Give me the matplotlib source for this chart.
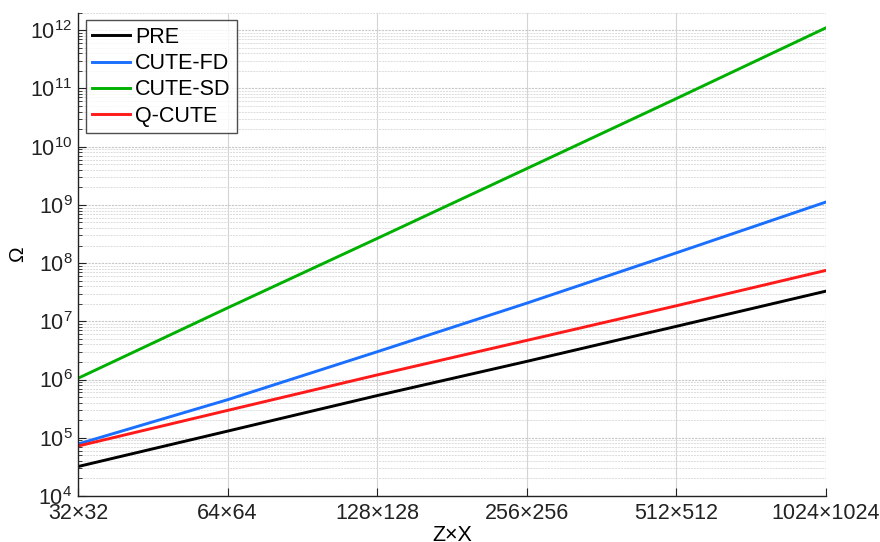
import matplotlib
matplotlib.use("Agg")
import matplotlib.pyplot as plt
from matplotlib.ticker import LogLocator, NullFormatter, FixedLocator

plt.rcParams['font.family'] = ['Liberation Sans', 'DejaVu Sans']
plt.rcParams['mathtext.fontset'] = 'custom'
plt.rcParams['mathtext.rm'] = 'Liberation Sans'
plt.rcParams['mathtext.it'] = 'Liberation Sans'

# Grid sizes (Z = X = N)
grid_n = [32, 64, 128, 256, 512, 1024]
tick_labels = ["32×32", "64×64", "128×128", "256×256", "512×512", "1024×1024"]

# Complexity values per method
pre = [3.2e4, 1.3e5, 5.3e5, 2.05e6, 8.2e6, 3.3e7]
cute_fd = [7.8e4, 4.5e5, 3.0e6, 2.05e7, 1.5e8, 1.12e9]
cute_sd = [1.05e6, 1.7e7, 2.65e8, 4.2e9, 6.7e10, 1.1e12]
q_cute = [7.2e4, 2.95e5, 1.2e6, 4.7e6, 1.85e7, 7.5e7]

series = [
    ("PRE", pre, "#000000"),
    ("CUTE-FD", cute_fd, "#1a6fff"),
    ("CUTE-SD", cute_sd, "#00b000"),
    ("Q-CUTE", q_cute, "#ff1a1a"),
]

fig = plt.figure(figsize=(8.8, 5.42), dpi=100)
ax = fig.add_axes([0.0886, 0.0849, 0.85, 0.8917])

for name, vals, color in series:
    ax.plot(grid_n, vals, color=color, lw=2.1, label=name)

ax.set_xscale('log', base=2)
ax.set_yscale('log')
ax.set_xlim(32, 1024)
ax.set_ylim(1e4, 2e12)

ax.xaxis.set_major_locator(FixedLocator(grid_n))
ax.set_xticklabels(tick_labels)
ax.xaxis.set_minor_locator(FixedLocator([]))
ax.yaxis.set_major_locator(LogLocator(base=10, numticks=20))
ax.yaxis.set_minor_locator(LogLocator(base=10, subs=range(2, 10), numticks=100))
ax.yaxis.set_minor_formatter(NullFormatter())

ax.grid(True, which='major', axis='x', color='#d4d4d4', lw=0.8, ls='-')
ax.grid(True, which='major', axis='y', color='#c8c8c8', lw=0.8, ls=(0, (2, 1)))
ax.grid(True, which='minor', axis='y', color='#dcdcdc', lw=0.7, ls=(0, (2, 1)))
ax.set_axisbelow(True)

for s in ('top', 'right'):
    ax.spines[s].set_visible(False)
for s in ('left', 'bottom'):
    ax.spines[s].set_color('#222222')
    ax.spines[s].set_linewidth(1.0)

ax.tick_params(axis='both', which='both', direction='in', colors='#222222')
ax.tick_params(axis='both', which='major', length=6, labelsize=15.5, pad=4)
ax.tick_params(axis='y', which='minor', length=3)
ax.tick_params(axis='x', which='major', pad=5)

ax.set_xlabel("Z×X", fontsize=15.5, labelpad=1)
ax.set_ylabel("Ω", fontsize=15, labelpad=2)

leg = ax.legend(loc='upper left', fontsize=15.5, frameon=True, fancybox=False,
                edgecolor='#222222', handlelength=1.75, handletextpad=0.25,
                borderpad=0.3, labelspacing=0.25, borderaxespad=0.35)
leg.get_frame().set_linewidth(1.0)

fig.savefig("out.png", dpi=100)
